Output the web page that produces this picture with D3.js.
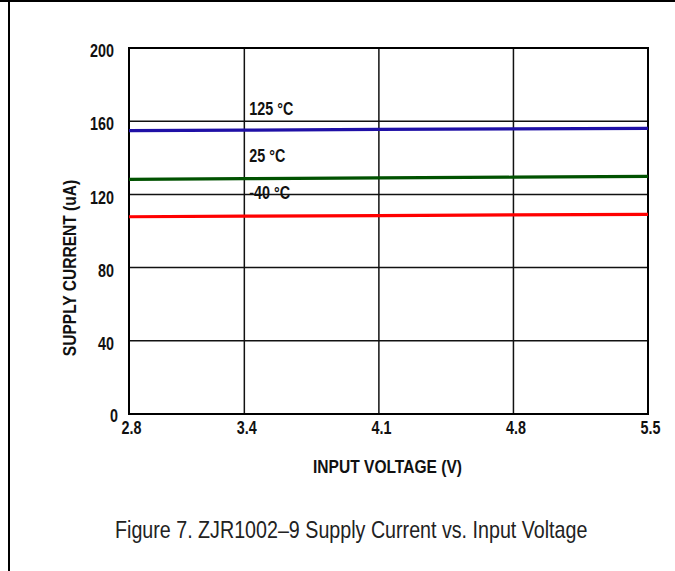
<!DOCTYPE html>
<html>
<head>
<meta charset="utf-8">
<title>Supply Current vs. Input Voltage</title>
<script src="https://d3js.org/d3.v7.min.js"></script>
<style>
  body { margin: 0; background: #fff; }
  svg text { font-family: "Liberation Sans", Arial, sans-serif; }
</style>
</head>
<body>
<svg width="675" height="571"></svg>
<script>
// values
const voltage = [2.8, 3.4, 4.1, 4.8, 5.5];
const current125 = [154.8, 155.1, 155.5, 155.8, 156.1];
const current25 = [128.2, 128.6, 129.0, 129.4, 129.8];
const currentM40 = [107.8, 108.1, 108.4, 108.8, 109.1];
const xTicks = [2.8, 3.4, 4.1, 4.8, 5.5];
const yTicks = [0, 40, 80, 120, 160, 200];

const series = [
  { name: "125 °C", values: current125, color: "#1f10a6", labelAt: 163.4 },
  { name: "25 °C", values: current25, color: "#005200", labelAt: 137.9 },
  { name: "-40 °C", values: currentM40, color: "#ff0000", labelAt: 117.5 }
];

// the original uses a narrow face; squeeze Liberation Sans to match
const SQ = 0.82;

const svg = d3.select("svg");
const margin = { top: 48, right: 27, bottom: 157, left: 129 };
const width = 675 - margin.left - margin.right;
const height = 571 - margin.top - margin.bottom;

function label(parent, x, y, str, size, weight, anchor, rot) {
  return parent.append("text")
    .attr("transform", `translate(${x},${y})${rot ? " rotate(" + rot + ")" : ""} scale(${SQ},1)`)
    .attr("text-anchor", anchor || "start")
    .attr("font-size", size).attr("font-weight", weight || "normal")
    .attr("fill", "#111").text(str);
}

// page frame: top and left rules only
svg.append("line").attr("x1", 0).attr("x2", 675).attr("y1", 1).attr("y2", 1)
  .attr("stroke", "#000").attr("stroke-width", 2);
svg.append("line").attr("x1", 9).attr("x2", 9).attr("y1", 0).attr("y2", 571)
  .attr("stroke", "#000").attr("stroke-width", 2);

const g = svg.append("g").attr("transform", `translate(${margin.left},${margin.top})`);

const x = d3.scaleLinear().domain([2.8, 5.5]).range([0, width]);
const y = d3.scaleLinear().domain([0, 200]).range([height, 0]);

// grid
g.append("g").selectAll("line").data(yTicks).join("line")
  .attr("x1", 0).attr("x2", width)
  .attr("y1", d => y(d)).attr("y2", d => y(d))
  .attr("stroke", "#111").attr("stroke-width", 1.5);
g.append("g").selectAll("line").data(xTicks).join("line")
  .attr("x1", d => x(d)).attr("x2", d => x(d))
  .attr("y1", 0).attr("y2", height)
  .attr("stroke", "#111").attr("stroke-width", 1.5);
g.append("rect").attr("width", width).attr("height", height)
  .attr("fill", "none").attr("stroke", "#000").attr("stroke-width", 2);

// axes (labels only, ticks hidden)
const xAxis = g.append("g").attr("transform", `translate(0,${height})`)
  .call(d3.axisBottom(x).tickValues(xTicks).tickFormat(d3.format(".1f")).tickSize(0));
const yAxis = g.append("g")
  .call(d3.axisLeft(y).tickValues(yTicks).tickSize(0));
[xAxis, yAxis].forEach(a => {
  a.select(".domain").remove();
  a.selectAll("text").attr("font-family", "Liberation Sans, Arial, sans-serif")
    .attr("font-size", 17.5).attr("font-weight", "bold").attr("fill", "#111")
    .attr("transform", `scale(${SQ},1)`).attr("dy", 0);
});
xAxis.selectAll("text").attr("x", 2 / SQ).attr("y", 20.5);
yAxis.selectAll("text").attr("x", -15 / SQ).attr("y", 8.6);
yAxis.selectAll("text").filter(d => d === 0).attr("x", -11 / SQ).attr("y", 7.9);

// curves
const line = d3.line().x((d, i) => x(voltage[i])).y(d => y(d));
g.append("g").selectAll("path").data(series).join("path")
  .attr("d", d => line(d.values))
  .attr("fill", "none").attr("stroke", d => d.color).attr("stroke-width", 3.2);

series.forEach(s => label(g, x(3.4) + 5, y(s.labelAt), s.name, 17.5, "bold"));

// axis titles
label(g, width / 2 - 1, height + 59, "INPUT VOLTAGE (V)", 19, "bold", "middle");
label(g, 76 - margin.left, 268 - margin.top, "SUPPLY CURRENT (uA)", 19, "bold", "middle", -90);

// caption
label(svg, 115, 538, "Figure 7. ZJR1002–9 Supply Current vs. Input Voltage", 24, "normal", "start")
  .attr("fill", "#222");
</script>
</body>
</html>
